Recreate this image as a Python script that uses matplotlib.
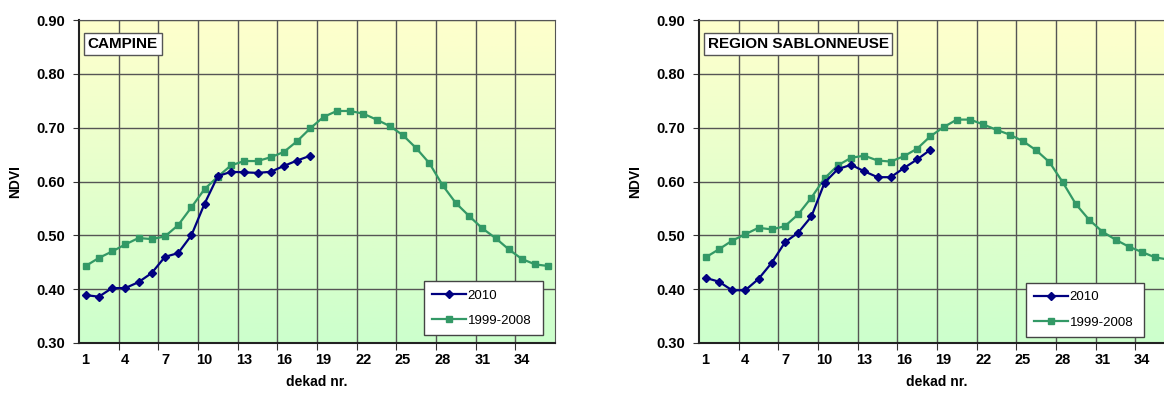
import numpy as np
import matplotlib
matplotlib.use("Agg")
import matplotlib.pyplot as plt

plt.rcParams['font.family'] = ['Liberation Sans', 'DejaVu Sans']

dekads = np.arange(1, 37)
tick_labels = [str(d) for d in range(1, 37, 3)]

# CAMPINE
campine_2010 = [0.389, 0.386, 0.402, 0.402, 0.413, 0.430, 0.460, 0.467, 0.500,
                0.559, 0.610, 0.618, 0.617, 0.616, 0.618, 0.629, 0.639, 0.648]
campine_ref = [0.443, 0.458, 0.470, 0.483, 0.495, 0.493, 0.498, 0.519, 0.552,
               0.586, 0.609, 0.630, 0.638, 0.638, 0.645, 0.655, 0.675, 0.699,
               0.720, 0.731, 0.731, 0.726, 0.715, 0.703, 0.686, 0.662, 0.634,
               0.593, 0.560, 0.536, 0.513, 0.495, 0.474, 0.456, 0.446, 0.443]

# REGION SABLONNEUSE
sable_2010 = [0.421, 0.414, 0.398, 0.398, 0.419, 0.449, 0.487, 0.505, 0.535,
              0.598, 0.623, 0.631, 0.619, 0.608, 0.608, 0.625, 0.641, 0.659]
sable_ref = [0.459, 0.474, 0.490, 0.502, 0.514, 0.511, 0.517, 0.539, 0.570,
             0.606, 0.630, 0.644, 0.648, 0.639, 0.637, 0.647, 0.661, 0.684,
             0.701, 0.715, 0.715, 0.706, 0.696, 0.687, 0.675, 0.658, 0.636,
             0.599, 0.558, 0.529, 0.507, 0.492, 0.479, 0.469, 0.459, 0.455]

panels = [
    ("CAMPINE", campine_2010, campine_ref, 79, (0.725, 0.025, 0.25, 0.165)),
    ("REGION SABLONNEUSE", sable_2010, sable_ref, 699, (0.687, 0.02, 0.248, 0.165)),
]

W, H = 1164, 394
fig = plt.figure(figsize=(W / 100, H / 100), dpi=100)

BLUE = "#000080"
GREEN = "#339966"
GRID = "#555555"

for title, s2010, sref, left_px, leg_box in panels:
    ax = fig.add_axes([left_px / W, (H - 343) / H, 476 / W, 323 / H])
    # yellow -> green gradient background
    grad = np.linspace(0, 1, 256)[:, None]
    top = np.array([1.0, 1.0, 0.80])
    bot = np.array([0.80, 1.0, 0.80])
    img = top[None, None, :] * (1 - grad[..., None]) + bot[None, None, :] * grad[..., None]
    ax.imshow(img, extent=[0, 1, 0, 1], transform=ax.transAxes, aspect="auto", zorder=0)

    ax.set_xlim(0.5, 36.5)
    ax.set_ylim(0.30, 0.90)

    ax.plot(dekads[:len(sref)], sref, color=GREEN, lw=1.6, marker="s", ms=5,
            label="1999-2008", zorder=3)
    ax.plot(dekads[:len(s2010)], s2010, color=BLUE, lw=1.6, marker="D", ms=4.5,
            label="2010", zorder=4)

    # grid at category boundaries, labels at category centers
    ax.set_xticks(np.arange(3.5, 36, 3))
    ax.set_xticklabels([])
    ax.set_xticks(np.arange(1, 37, 3), minor=True)
    ax.set_xticklabels(tick_labels, minor=True, fontsize=10.5, fontweight="bold")
    ax.tick_params(axis="x", which="major", length=5, direction="out", color="#333333")
    ax.tick_params(axis="x", which="minor", length=0, pad=7)
    ax.set_yticks(np.arange(0.30, 0.91, 0.10))
    ax.set_yticklabels([f"{v:.2f}" for v in np.arange(0.30, 0.91, 0.10)],
                       fontsize=10.5, fontweight="bold")
    ax.tick_params(axis="y", length=4, direction="out", color="#333333", pad=6)
    ax.grid(True, which="major", color=GRID, lw=1.0, zorder=1)
    ax.set_axisbelow(True)

    for side in ("top", "right"):
        ax.spines[side].set_color("#555555")
    for side in ("left", "bottom"):
        ax.spines[side].set_color("#222222")
        ax.spines[side].set_linewidth(1.5)

    ax.set_ylabel("NDVI", fontsize=10, fontweight="bold", labelpad=10)
    ax.set_xlabel("dekad nr.", fontsize=10, fontweight="bold", labelpad=6)

    ax.text(0.018, 0.926, title, transform=ax.transAxes, fontsize=11,
            fontweight="bold", va="center", ha="left", zorder=6,
            bbox=dict(boxstyle="square,pad=0.25", fc="white", ec="#555555", lw=1))

    handles, labels = ax.get_legend_handles_labels()
    leg = ax.legend(handles[::-1], labels[::-1], loc="lower left",
                    bbox_to_anchor=leg_box, mode="expand", fontsize=9.5,
                    frameon=True, fancybox=False, edgecolor="#444444",
                    framealpha=1, handlelength=2.6, handletextpad=0.1,
                    labelspacing=1.0, borderpad=0.6, borderaxespad=0)
    leg.get_frame().set_linewidth(1.0)
    leg.set_zorder(7)

fig.savefig("out.png", dpi=100)
